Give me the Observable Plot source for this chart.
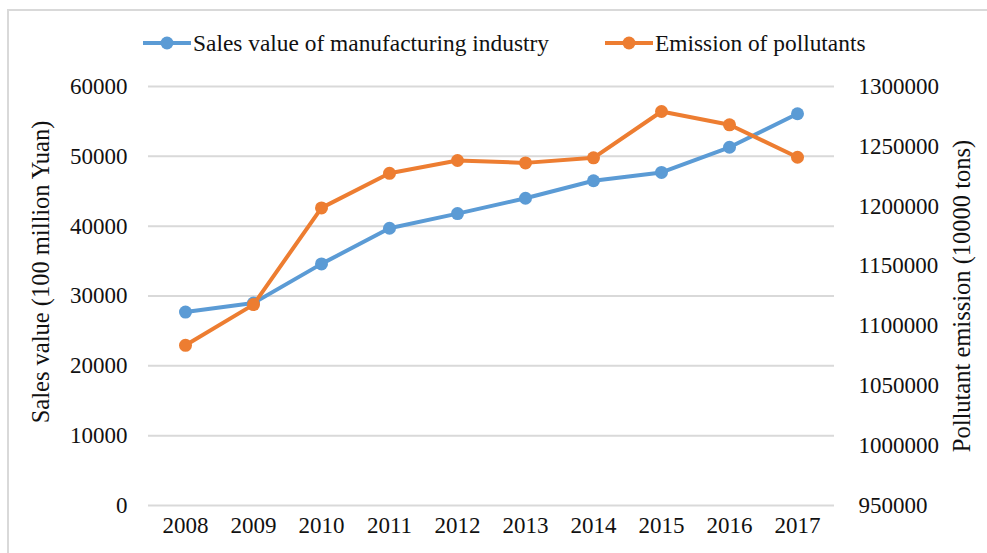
<!DOCTYPE html>
<html>
<head>
<meta charset="utf-8">
<script src="https://cdn.jsdelivr.net/npm/d3@7"></script>
<script src="https://cdn.jsdelivr.net/npm/@observablehq/plot@0.6"></script>
<style>
  html, body { margin: 0; padding: 0; background: #fff; }
  #wrap { position: relative; width: 987px; height: 553px; overflow: hidden; font-family: "Liberation Serif", "Times New Roman", serif; }
  #frame { position: absolute; left: 7px; top: 9px; width: 1000px; height: 600px; border-left: 2px solid #d9d9d9; border-top: 2px solid #d9d9d9; box-sizing: border-box; pointer-events: none; }
  #legend { position: absolute; left: 0; top: 28px; width: 987px; height: 30px; }
  .item { position: absolute; top: 0; display: flex; align-items: center; font-size: 23.4px; color: #111; white-space: nowrap; }
  .item svg { margin-right: 2px; }
  #chart { position: absolute; left: 0; top: 0; }
</style>
</head>
<body>
<div id="wrap">
  <div id="chart"></div>
  <div id="frame"></div>
  <div id="legend"></div>
</div>
<script>
const years = ["2008","2009","2010","2011","2012","2013","2014","2015","2016","2017"];
const salesValue = [27700, 29000, 34600, 39700, 41800, 44000, 46500, 47700, 51300, 56100];
const pollutantEmission = [1083800, 1117800, 1198600, 1227500, 1238200, 1236200, 1240400, 1279100, 1268000, 1240900];
const leftTicks = [0, 10000, 20000, 30000, 40000, 50000, 60000];
const rightTicks = [950000, 1000000, 1050000, 1100000, 1150000, 1200000, 1250000, 1300000];
const seriesNames = ["Sales value of manufacturing industry", "Emission of pollutants"];
const seriesColors = ["#5b9bd5", "#ed7d31"];
const leftLabel = "Sales value (100 million Yuan)";
const rightLabel = "Pollutant emission (10000 tons)";

// map right-axis domain [950000,1300000] onto left-axis domain [0,60000]
const rMin = 950000, rMax = 1300000, lMax = 60000;
const toLeft = v => (v - rMin) / (rMax - rMin) * lMax;
const fromLeft = v => Math.round(v / lMax * (rMax - rMin) + rMin);

const sales = years.map((y, i) => ({year: y, value: salesValue[i]}));
const emis = years.map((y, i) => ({year: y, value: toLeft(pollutantEmission[i])}));

const chart = Plot.plot({
  width: 987,
  height: 553,
  marginTop: 86,
  marginBottom: 48,
  marginLeft: 148,
  marginRight: 153,
  style: {fontFamily: "'Liberation Serif', 'Times New Roman', serif", fontSize: "23px", color: "#111", background: "transparent"},
  x: {type: "point", domain: years, padding: 0.5},
  y: {domain: [0, 60000]},
  marks: [
    Plot.gridY(leftTicks, {stroke: "#d9d9d9", strokeOpacity: 1, strokeWidth: 2}),
    Plot.axisX({tickSize: 0, tickPadding: 11, label: null, fontSize: 23}),
    Plot.axisY(leftTicks, {anchor: "left", tickSize: 0, tickPadding: 21, tickFormat: d => String(d), label: null, fontSize: 23}),
    Plot.axisY(rightTicks.map(toLeft), {anchor: "right", tickSize: 0, tickPadding: 24, tickFormat: d => String(fromLeft(d)), label: null, fontSize: 23}),
    Plot.text([leftLabel], {frameAnchor: "left", textAnchor: "middle", rotate: -90, dx: -107, dy: -24, fontSize: 24.5, fill: "#111"}),
    Plot.text([rightLabel], {frameAnchor: "right", textAnchor: "middle", rotate: -90, dx: 128, dy: 0, fontSize: 24.5, fill: "#111"}),
    Plot.line(sales, {x: "year", y: "value", stroke: seriesColors[0], strokeWidth: 4}),
    Plot.dot(sales, {x: "year", y: "value", fill: seriesColors[0], r: 6.5}),
    Plot.line(emis, {x: "year", y: "value", stroke: seriesColors[1], strokeWidth: 4}),
    Plot.dot(emis, {x: "year", y: "value", fill: seriesColors[1], r: 6.5})
  ]
});
document.getElementById("chart").appendChild(chart);

// legend
const legend = document.getElementById("legend");
const legendX = [143, 605];
seriesNames.forEach((name, i) => {
  const item = document.createElement("div");
  item.className = "item";
  item.style.left = legendX[i] + "px";
  item.innerHTML = `<svg width="48" height="30"><line x1="0" x2="48" y1="15" y2="15" stroke="${seriesColors[i]}" stroke-width="4"/><circle cx="24" cy="15" r="6.5" fill="${seriesColors[i]}"/></svg><span>${name}</span>`;
  legend.appendChild(item);
});
</script>
</body>
</html>
